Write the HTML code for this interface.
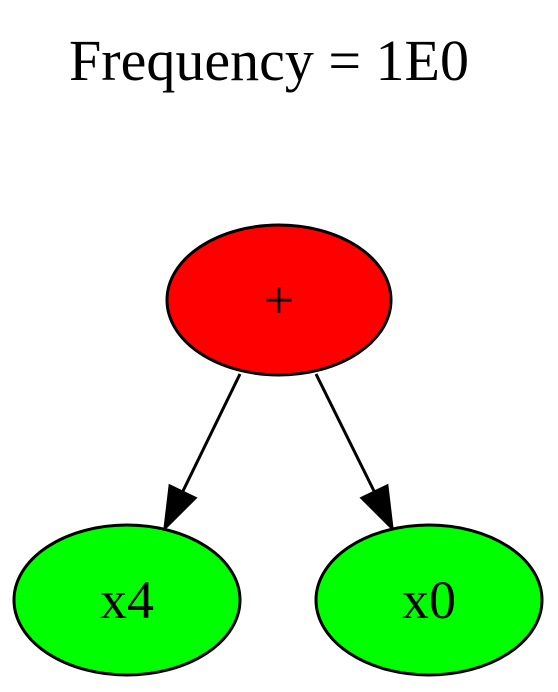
<!DOCTYPE html>
<html><head><meta charset="utf-8"><style>
html,body{margin:0;padding:0;background:#fff;}
svg{display:block;}
text{font-family:"Liberation Serif",serif;fill:#000;}
</style></head><body>
<svg width="558" height="692" viewBox="0 0 558 692">
<text x="269" y="80" font-size="58" text-anchor="middle">Frequency = 1E0</text>
<g>
<line x1="240" y1="374" x2="183" y2="491" stroke="#000" stroke-width="3"/>
<polygon points="165,528 195,498 170,486" fill="#000" stroke="#000" stroke-width="3"/>
</g>
<g>
<line x1="316" y1="374" x2="374" y2="491" stroke="#000" stroke-width="3"/>
<polygon points="392,528 387,486 362,498" fill="#000" stroke="#000" stroke-width="3"/>
</g>
<g>
<ellipse cx="279" cy="300" rx="112" ry="75" fill="#ff0000" stroke="#000" stroke-width="3"/>
<text x="279" y="318" font-size="54" text-anchor="middle">+</text>
</g>
<g>
<ellipse cx="127" cy="600" rx="113" ry="75" fill="#00ff00" stroke="#000" stroke-width="3"/>
<text x="127" y="618" font-size="54" text-anchor="middle">x4</text>
</g>
<g>
<ellipse cx="429" cy="600" rx="113" ry="75" fill="#00ff00" stroke="#000" stroke-width="3"/>
<text x="429" y="618" font-size="54" text-anchor="middle">x0</text>
</g>
</svg>
</body></html>
